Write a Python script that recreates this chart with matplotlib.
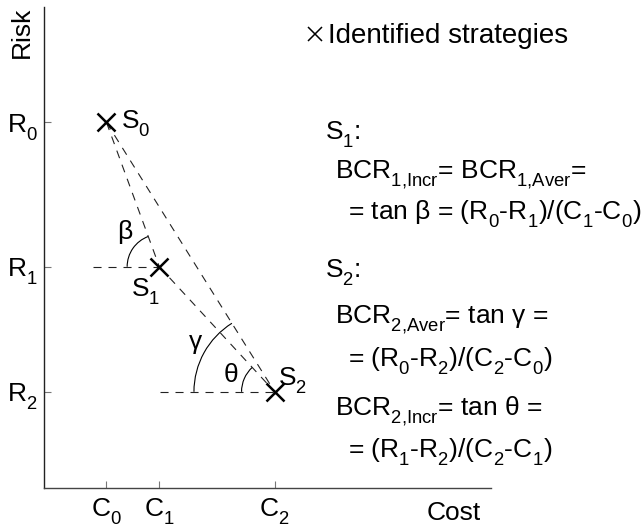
import numpy as np
import matplotlib
matplotlib.use("Agg")
import matplotlib.pyplot as plt
from matplotlib.patches import Arc
from matplotlib.lines import Line2D
from matplotlib import _mathtext

plt.rcParams["font.family"] = ["Liberation Sans", "DejaVu Sans"]
plt.rcParams["mathtext.fontset"] = "custom"
plt.rcParams["mathtext.rm"] = "Liberation Sans"
plt.rcParams["mathtext.it"] = "Liberation Sans"
plt.rcParams["mathtext.bf"] = "Liberation Sans:bold"
plt.rcParams["lines.scale_dashes"] = False
# Drop subscripts a little lower than the mathtext default
_mathtext.FontConstantsBase.sub1 = 0.6

# Strategies in the cost-risk plane (arbitrary units)
strategy_labels = ["S$_0$", "S$_1$", "S$_2$"]
cost = [1.3, 2.4, 4.8]
risk = [7.6, 4.6, 2.0]
cost_labels = ["C$_0$", "C$_1$", "C$_2$"]
risk_labels = ["R$_0$", "R$_1$", "R$_2$"]

formula_lines = [
    "S$_1$:",
    r"BCR$_{1{,}\mathrm{Incr}}$= BCR$_{1{,}\mathrm{Aver}}$=",
    "= tan β = (R$_0$-R$_1$)/(C$_1$-C$_0$)",
    "S$_2$:",
    r"BCR$_{2{,}\mathrm{Aver}}$= tan γ =",
    "= (R$_0$-R$_2$)/(C$_2$-C$_0$)",
    r"BCR$_{2{,}\mathrm{Incr}}$= tan θ =",
    "= (R$_1$-R$_2$)/(C$_2$-C$_1$)",
]
formula_x = [325, 335, 348, 325, 335, 348, 335, 348]
formula_baseline = [140, 178, 220, 278, 323, 367, 415, 458]

W, H = 641, 527
FS = 19
fig = plt.figure(figsize=(W / 100, H / 100), dpi=100)


def px(x, y):
    return x / W, 1 - y / H


ax = fig.add_axes([44 / W, (H - 488) / H, 447 / W, 481 / H])
ax.set_xlim(0, 9.3)
ax.set_ylim(0, 10)
for s in ("top", "right"):
    ax.spines[s].set_visible(False)
ax.spines["left"].set_color("#222222")
ax.spines["bottom"].set_color("#444444")
ax.spines["left"].set_linewidth(1.0)
ax.spines["bottom"].set_linewidth(1.0)

ax.set_xticks(cost)
ax.set_xticklabels(cost_labels)
ax.set_yticks(risk)
ax.set_yticklabels(risk_labels)
ax.tick_params(axis="both", direction="in", length=5, width=0.8,
               color="#777777", labelsize=FS)
ax.tick_params(axis="x", pad=6.0)
ax.tick_params(axis="y", pad=4.5)

dash = (0, (5.8, 5.0))
lk = dict(color="#222222", lw=0.8, linestyle=dash)

# Connecting lines between strategies
ax.plot([cost[0], cost[1]], [risk[0], risk[1]], **lk)
ax.plot([cost[0], cost[2]], [risk[0], risk[2]], **lk)
ax.plot([cost[1], cost[2]], [risk[1], risk[2]], **lk)

# Horizontal reference lines
ax.plot([1.02, cost[1]], [risk[1], risk[1]], **lk)
ax.plot([2.41, cost[2]], [risk[2], risk[2]], **lk)


def angle_to(i, j):
    return np.degrees(np.arctan2(risk[j] - risk[i], cost[j] - cost[i]))


# Angle arcs
arcs = [(1, 0, 0.67), (2, 0, 1.68), (2, 1, 0.69)]
for i, j, r in arcs:
    ax.add_patch(Arc((cost[i], risk[i]), 2 * r, 2 * r,
                     theta1=angle_to(i, j), theta2=180,
                     color="black", lw=0.8))

greek = [("β", 1, (-35, 35)), ("γ", 2, (-79, 50)), ("θ", 2, (-44, 17))]
for g, i, off in greek:
    ax.annotate(g, xy=(cost[i], risk[i]), xytext=off,
                textcoords="offset pixels", ha="center", va="center",
                fontsize=FS)

ax.plot(cost, risk, linestyle="none", marker="x", markersize=13,
        markeredgewidth=1.8, color="black", zorder=5)

label_offsets = [(15, -6), (-28, -30), (3, 6)]
for lab, c, r, off in zip(strategy_labels, cost, risk, label_offsets):
    ax.annotate(lab, xy=(c, r), xytext=off, textcoords="offset pixels",
                ha="left", va="baseline", fontsize=FS)

# Axis titles
fig.text(*px(22, 32), "Risk", rotation=90, ha="center", va="center",
         fontsize=FS)
fig.text(*px(454, 513), "Cost", ha="center", va="center", fontsize=FS)

# Legend entry
fig.add_artist(Line2D([px(315, 34)[0]], [px(315, 34)[1]], marker="x",
                      markersize=10.5, markeredgewidth=1.1, color="black",
                      linestyle="none", transform=fig.transFigure))
fig.text(*px(328, 43), "Identified strategies", ha="left",
         va="baseline", fontsize=20)

for t, x, y in zip(formula_lines, formula_x, formula_baseline):
    fig.text(*px(x, y), t, ha="left", va="baseline", fontsize=FS)

fig.savefig("out.png", dpi=100)
